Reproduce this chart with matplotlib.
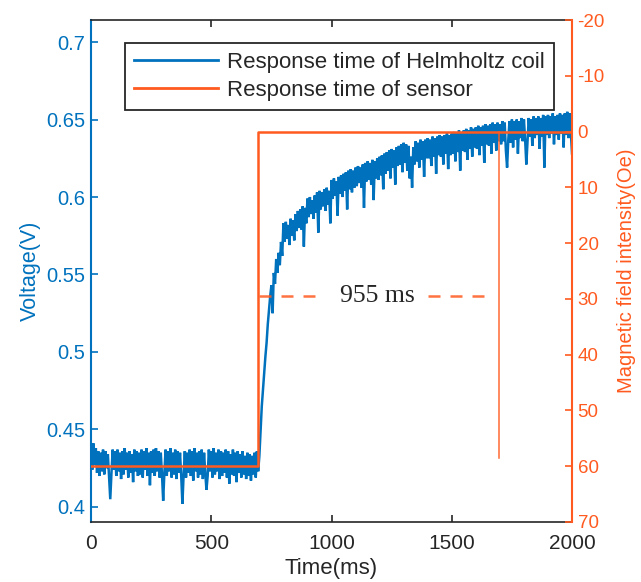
import numpy as np
import matplotlib
matplotlib.use("Agg")
import matplotlib.pyplot as plt

plt.rcParams['font.family'] = ['Liberation Sans', 'DejaVu Sans']

# ---- data ----
sample_step_ms = 5
voltage = [
    # 0 - 95 ms
    0.440, 0.424, 0.441, 0.427, 0.438, 0.422, 0.436, 0.420, 0.435, 0.423,
    0.437, 0.421, 0.436, 0.425, 0.434, 0.419, 0.405, 0.422, 0.437, 0.424,
    # 100 - 195 ms
    0.436, 0.420, 0.437, 0.423, 0.435, 0.418, 0.436, 0.421, 0.438, 0.424,
    0.435, 0.419, 0.436, 0.422, 0.434, 0.416, 0.437, 0.423, 0.436, 0.420,
    # 200 - 295 ms
    0.435, 0.421, 0.437, 0.419, 0.436, 0.424, 0.438, 0.420, 0.435, 0.414,
    0.436, 0.422, 0.437, 0.420, 0.438, 0.423, 0.436, 0.419, 0.435, 0.421,
    # 300 - 395 ms
    0.404, 0.422, 0.437, 0.420, 0.436, 0.423, 0.438, 0.419, 0.435, 0.421,
    0.437, 0.418, 0.436, 0.422, 0.435, 0.420, 0.402, 0.421, 0.436, 0.419,
    # 400 - 495 ms
    0.435, 0.422, 0.437, 0.420, 0.436, 0.417, 0.438, 0.423, 0.435, 0.419,
    0.436, 0.421, 0.437, 0.418, 0.435, 0.422, 0.411, 0.420, 0.437, 0.423,
    # 500 - 595 ms
    0.436, 0.419, 0.438, 0.421, 0.435, 0.423, 0.437, 0.418, 0.436, 0.420,
    0.435, 0.422, 0.437, 0.419, 0.436, 0.415, 0.434, 0.421, 0.437, 0.420,
    # 600 - 695 ms
    0.435, 0.416, 0.436, 0.422, 0.434, 0.419, 0.436, 0.421, 0.433, 0.418,
    0.435, 0.420, 0.434, 0.417, 0.433, 0.421, 0.435, 0.419, 0.436, 0.423,
    # 700 - 795 ms (rise)
    0.433, 0.449, 0.465, 0.476, 0.487, 0.497, 0.506, 0.518, 0.527, 0.536,
    0.543, 0.525, 0.551, 0.544, 0.560, 0.551, 0.564, 0.556, 0.571, 0.562,
    # 800 - 895 ms
    0.583, 0.571, 0.584, 0.573, 0.582, 0.569, 0.586, 0.575, 0.585, 0.572,
    0.589, 0.578, 0.591, 0.580, 0.592, 0.579, 0.594, 0.568, 0.593, 0.583,
    # 900 - 995 ms
    0.599, 0.587, 0.600, 0.589, 0.598, 0.586, 0.601, 0.590, 0.603, 0.577,
    0.604, 0.592, 0.603, 0.594, 0.605, 0.591, 0.606, 0.595, 0.604, 0.583,
    # 1000 - 1095 ms
    0.611, 0.599, 0.612, 0.601, 0.610, 0.588, 0.613, 0.602, 0.614, 0.600,
    0.615, 0.604, 0.616, 0.592, 0.617, 0.605, 0.618, 0.603, 0.617, 0.606,
    # 1100 - 1195 ms
    0.619, 0.607, 0.620, 0.609, 0.619, 0.606, 0.621, 0.593, 0.622, 0.610,
    0.623, 0.611, 0.622, 0.608, 0.624, 0.598, 0.623, 0.612, 0.625, 0.611,
    # 1200 - 1295 ms
    0.626, 0.614, 0.627, 0.605, 0.628, 0.615, 0.629, 0.617, 0.630, 0.612,
    0.631, 0.619, 0.630, 0.608, 0.632, 0.620, 0.633, 0.621, 0.634, 0.616,
    # 1300 - 1395 ms
    0.635, 0.622, 0.634, 0.617, 0.633, 0.612, 0.626, 0.606, 0.632, 0.621,
    0.636, 0.623, 0.635, 0.619, 0.637, 0.624, 0.636, 0.613, 0.637, 0.625,
    # 1400 - 1495 ms
    0.638, 0.625, 0.637, 0.620, 0.639, 0.626, 0.638, 0.615, 0.639, 0.627,
    0.640, 0.626, 0.639, 0.621, 0.640, 0.628, 0.641, 0.618, 0.640, 0.627,
    # 1500 - 1595 ms
    0.641, 0.628, 0.642, 0.623, 0.641, 0.629, 0.643, 0.617, 0.642, 0.630,
    0.643, 0.629, 0.644, 0.624, 0.643, 0.631, 0.645, 0.626, 0.644, 0.632,
    # 1600 - 1695 ms
    0.645, 0.631, 0.646, 0.627, 0.645, 0.633, 0.646, 0.622, 0.647, 0.634,
    0.646, 0.633, 0.647, 0.628, 0.648, 0.635, 0.647, 0.630, 0.648, 0.636,
    # 1700 - 1795 ms
    0.647, 0.634, 0.649, 0.636, 0.648, 0.630, 0.619, 0.637, 0.649, 0.635,
    0.650, 0.632, 0.649, 0.637, 0.650, 0.628, 0.649, 0.638, 0.651, 0.636,
    # 1800 - 1895 ms
    0.650, 0.637, 0.621, 0.636, 0.651, 0.639, 0.650, 0.633, 0.652, 0.638,
    0.651, 0.640, 0.652, 0.631, 0.651, 0.639, 0.653, 0.619, 0.652, 0.640,
    # 1900 - 1995 ms
    0.653, 0.638, 0.652, 0.641, 0.654, 0.634, 0.652, 0.640, 0.653, 0.637,
    0.654, 0.641, 0.653, 0.632, 0.654, 0.640, 0.655, 0.638, 0.654, 0.642,
    # 2000 ms
    0.628,
]
time_ms = np.arange(len(voltage)) * sample_step_ms

sensor_t = [0, 695, 695, 2000]
sensor_field = [60, 60, 0, 0]

marker_t = [1695, 1695]
marker_field = [0, 58.5]

dash_left_t = [697, 945]
dash_right_t = [1400, 1672]
dash_level = 29.5
annotation_text = "955 ms"
annotation_t = 1189

xticks = [0, 500, 1000, 1500, 2000]
left_ticks = [0.4, 0.45, 0.5, 0.55, 0.6, 0.65, 0.7]
left_ticklabels = ["0.4", "0.45", "0.5", "0.55", "0.6", "0.65", "0.7"]
right_ticks = [-20, -10, 0, 10, 20, 30, 40, 50, 60, 70]

# ---- style ----
BLUE = '#0072BD'
ORANGE = '#FF5A1F'
DARK = '#262626'

fig = plt.figure(figsize=(6.41, 5.82), dpi=100)
ax = fig.add_axes([0.1420, 0.1031, 0.7504, 0.8625])
ax2 = ax.twinx()

h1, = ax.plot(time_ms, voltage, color=BLUE, lw=1.8, solid_joinstyle='miter',
              label='Response time of Helmholtz coil')
h2, = ax2.plot(sensor_t, sensor_field, color=ORANGE, lw=1.8,
               label='Response time of sensor')
ax2.plot(marker_t, marker_field, color=ORANGE, lw=1.1, alpha=0.9)
ax2.plot(dash_left_t, [dash_level, dash_level], color=ORANGE, lw=1.8,
         linestyle=(0, (4.8, 4.0)), alpha=0.85)
ax2.plot(dash_right_t, [dash_level, dash_level], color=ORANGE, lw=1.8,
         linestyle=(0, (4.8, 4.0)), alpha=0.85)
ax2.text(annotation_t, dash_level, annotation_text, ha='center', va='center',
         fontsize=18.5, family=['Liberation Serif', 'DejaVu Serif'], color=DARK)

ax.set_xlim(0, 2000)
ax.set_ylim(0.3903, 0.7142)
ax2.set_ylim(70, -20)

ax.set_xticks(xticks)
ax.set_xticklabels([str(v) for v in xticks], fontsize=15, color=DARK)
ax.set_yticks(left_ticks)
ax.set_yticklabels(left_ticklabels, fontsize=14.5, color=BLUE)
ax2.set_yticks(right_ticks)
ax2.set_yticklabels([str(v) for v in right_ticks], fontsize=13.5, color=ORANGE)

ax.tick_params(axis='x', direction='in', top=True, length=5, width=1.2,
               color=DARK, pad=9)
ax.tick_params(axis='y', direction='in', length=5, width=1.2, color=BLUE, pad=4)
ax2.tick_params(axis='y', direction='in', length=5, width=1.2, color=ORANGE, pad=4)

for s in ['top', 'bottom']:
    ax.spines[s].set_color(DARK)
    ax.spines[s].set_linewidth(1.2)
ax.spines['left'].set_color(BLUE)
ax.spines['left'].set_linewidth(1.5)
ax.spines['right'].set_visible(False)
for s in ['left', 'top', 'bottom']:
    ax2.spines[s].set_visible(False)
ax2.spines['right'].set_color(ORANGE)
ax2.spines['right'].set_linewidth(1.5)

ax.set_xlabel('Time(ms)', fontsize=16, color=DARK, labelpad=3)
ax.set_ylabel('Voltage(V)', fontsize=15.5, color=BLUE, labelpad=4)
ax2.set_ylabel('Magnetic field intensity(Oe)', fontsize=14.5, color=ORANGE,
               labelpad=9)

leg = ax2.legend(handles=[h1, h2], loc='upper left',
                 bbox_to_anchor=(0.0707, 0.954), borderaxespad=0,
                 fontsize=16, frameon=True, fancybox=False,
                 handlelength=3.8, handletextpad=0.4, borderpad=0.4,
                 labelspacing=0.3)
leg.get_frame().set_edgecolor(DARK)
leg.get_frame().set_linewidth(1.3)
leg.get_frame().set_alpha(1)
for t in leg.get_texts():
    t.set_color(DARK)
for l in leg.get_lines():
    l.set_linewidth(2.0)

fig.savefig('out.png', dpi=100)
